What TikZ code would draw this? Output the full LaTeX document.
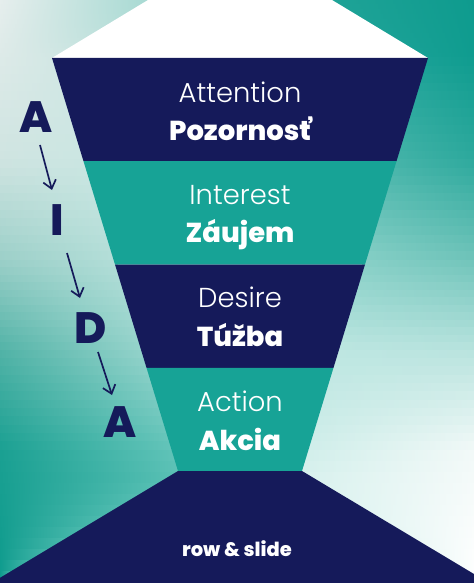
\documentclass[tikz,border=0pt]{standalone}
\usepackage{fontspec}
\setmainfont{Poppins}
\newfontfamily\lightf{Poppins Light}
\newfontfamily\heavyf{Poppins ExtraBold}
\usetikzlibrary{arrows.meta}
\definecolor{navy}{HTML}{151A5A}
\definecolor{tealband}{HTML}{17A396}
% background key colours: L = far left, E = left funnel edge, F = right funnel edge, R = far right
\definecolor{kL0}{HTML}{E6EEED}\definecolor{kE0}{HTML}{A5D9D2}\definecolor{kF0}{HTML}{1FA397}\definecolor{kR0}{HTML}{0E9B8E}
\definecolor{kL1}{HTML}{DDEAE8}\definecolor{kE1}{HTML}{D2E7E4}\definecolor{kF1}{HTML}{17A095}\definecolor{kR1}{HTML}{0F9C8F}
\definecolor{kL2}{HTML}{CFE4E1}\definecolor{kE2}{HTML}{CBE6E2}\definecolor{kF2}{HTML}{44B3A8}\definecolor{kR2}{HTML}{2DA99D}
\definecolor{kL3}{HTML}{9BCFC8}\definecolor{kE3}{HTML}{B3DED8}\definecolor{kF3}{HTML}{86CFC6}\definecolor{kR3}{HTML}{70C4BA}
\definecolor{kL4}{HTML}{52B3A7}\definecolor{kE4}{HTML}{95D3CB}\definecolor{kF4}{HTML}{BDE6E1}\definecolor{kR4}{HTML}{B8E3DE}
\definecolor{kL5}{HTML}{1AA092}\definecolor{kE5}{HTML}{62C4B9}\definecolor{kF5}{HTML}{D0EEEA}\definecolor{kR5}{HTML}{F2F9F8}
\definecolor{kL6}{HTML}{0E9B8D}\definecolor{kE6}{HTML}{3DB3A6}\definecolor{kF6}{HTML}{F6FCFB}\definecolor{kR6}{HTML}{FFFFFF}
\tikzset{
 lighttxt/.style={text=white, font=\lightf\fontsize{27.5}{27.5}\selectfont, anchor=base, inner sep=0},
 boldtxt/.style={text=white, font=\heavyf\fontsize{27.5}{27.5}\selectfont, anchor=base, inner sep=0},
 bigletter/.style={text=navy, font=\heavyf\fontsize{44}{44}\selectfont, anchor=base, inner sep=0},
 arr/.style={draw=navy, line width=1.7bp, -{Straight Barb[length=8bp,width=13bp,line width=1.7bp]}},
}
\begin{document}
\begin{tikzpicture}[x=1bp,y=-1bp,
  declare function={edgex(\t)=max(min(max(148-1.6552*\t,52+0.3051*(\t-58)),178-1.678*(\t-471)),4);}]
\useasboundingbox (0,0) rectangle (474,583);
\fill[white] (0,0) rectangle (474,583);
% background gradient strips
\foreach \k/\ya/\yb in {0/0/58, 1/58/160, 2/160/260, 3/260/350, 4/350/450, 5/450/583} {
  \pgfmathtruncatemacro\kn{\k+1}
  \foreach \j in {0,...,11} {
    \pgfmathsetmacro\ytop{\ya+(\yb-\ya)*\j/12}
    \pgfmathsetmacro\yend{\ya+(\yb-\ya)*(\j+1)/12}
    \pgfmathsetmacro\ybot{\yend+0.7}
    \pgfmathtruncatemacro\pct{(\j+0.5)*100/12}
    \pgfmathsetmacro\ex{max(edgex(\ytop),edgex(\yend))+1.5}
    \pgfmathsetmacro\fx{min(480-\ex,470)}
    \colorlet{cL}{kL\kn!\pct!kL\k}
    \colorlet{cE}{kE\kn!\pct!kE\k}
    \colorlet{cF}{kF\kn!\pct!kF\k}
    \colorlet{cR}{kR\kn!\pct!kR\k}
    \shade[left color=cL, right color=cE] (0,\ytop) rectangle (\ex,\ybot);
    \shade[left color=cF, right color=cR] (\fx,\ytop) rectangle (474,\ybot);
  }
}
% funnel corner coordinates
\coordinate (t0l) at (148,0);   \coordinate (t0r) at (332,0);
\coordinate (l0) at (52,58);    \coordinate (r0) at (428,58);
\coordinate (l1) at (83.5,161.25); \coordinate (r1) at (396.5,161.25);
\coordinate (l2) at (115,264.5);   \coordinate (r2) at (365,264.5);
\coordinate (l3) at (146.5,367.75); \coordinate (r3) at (333.5,367.75);
\coordinate (l4) at (178,471);  \coordinate (r4) at (302,471);
\coordinate (bl) at (0,577.8);  \coordinate (br) at (474,574);
\coordinate (bbl) at (0,583);   \coordinate (bbr) at (474,583);
\fill[white] (t0l) -- (t0r) -- (r0) -- (l0) -- cycle;
\fill[navy] (l0) -- (r0) -- (r1) -- (l1) -- cycle;
\fill[tealband] (l1) -- (r1) -- (r2) -- (l2) -- cycle;
\fill[navy] (l2) -- (r2) -- (r3) -- (l3) -- cycle;
\fill[tealband] (l3) -- (r3) -- (r4) -- (l4) -- cycle;
\fill[navy] (l4) -- (r4) -- (br) -- (bbr) -- (bbl) -- (bl) -- cycle;
% labels
\node[lighttxt] (att) at (240,103) {Attention};
\node[boldtxt] (poz) at (240,141) {Pozornosť};
\node[lighttxt] (int) at (240,204) {Interest};
\node[boldtxt] (zau) at (240,242) {Záujem};
\node[lighttxt] (des) at (240,307) {Desire};
\node[boldtxt] (tuz) at (240,346) {Túžba};
\node[lighttxt] (act) at (240,411) {Action};
\node[boldtxt] (akc) at (240,450) {Akcia};
\node[text=white, font=\heavyf\fontsize{19.5}{19.5}\selectfont, anchor=base, inner sep=0] (rs) at (237,556) {row \& slide};
% AIDA
\node[bigletter] (A1) at (36,133) {A};
\node[bigletter] (I) at (57,235) {I};
\node[bigletter] (D) at (91,343) {D};
\node[bigletter] (A2) at (120,437) {A};
\draw[arr] ([shift={(4,12)}]A1.base) -- ([shift={(-5,-45)}]I.base);
\draw[arr] ([shift={(10,18)}]I.base) -- ([shift={(-11,-45)}]D.base);
\draw[arr] ([shift={(7,9)}]D.base) -- ([shift={(-8,-42)}]A2.base);
\end{tikzpicture}
\end{document}
